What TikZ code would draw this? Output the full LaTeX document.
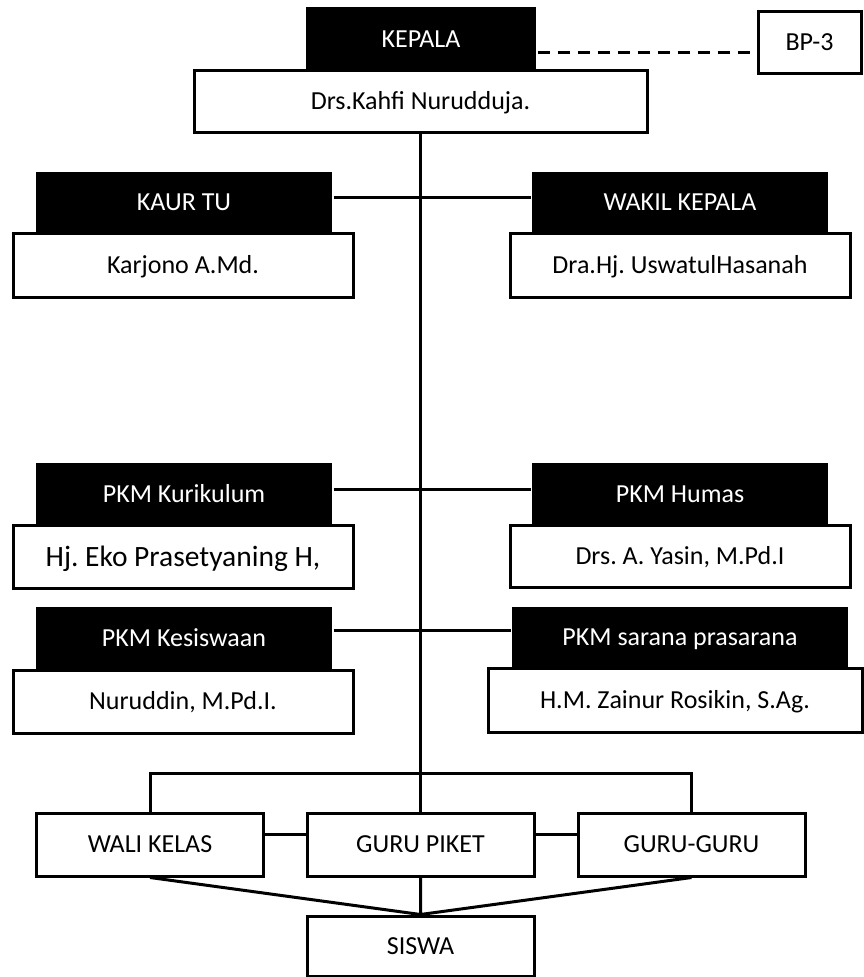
\documentclass[tikz,border=0pt]{standalone}
\usepackage{fontspec}
\setmainfont{Carlito}
\usepackage{tikz}
\frenchspacing

\begin{document}
\begin{tikzpicture}[x=1pt,y=-1pt,line width=3pt,
    titlebox/.style={fill=black,text=white,inner sep=0pt,minimum width=296pt,minimum height=61pt,
      font=\fontsize{26}{30}\selectfont,text height=16.7pt,text depth=0pt},
    namebox/.style={draw,fill=white,inner sep=0pt,minimum width=340pt,minimum height=64pt,
      font=\fontsize{26}{30}\selectfont,text height=16.7pt,text depth=0pt},
    unitbox/.style={namebox,minimum width=227pt,minimum height=63pt},
    dashline/.style={dash pattern=on 12pt off 8pt}]
        \useasboundingbox (0,0) rectangle (864,977);
        % top
        \node[titlebox,minimum width=230pt,minimum height=64pt] (kepala) at (421,39) {KEPALA};
        \node[namebox,minimum width=453pt,minimum height=62pt] (kahfi) at (420.5,101) {Drs.Kahfi Nurudduja.};
        \node[namebox,minimum width=103pt,minimum height=62pt] (bp) at (809.5,42) {BP-3};
        \draw[dashline] ([yshift=-13pt]kepala.east) -- ([yshift=-13pt]kepala.east -| bp.west);
        % left column
        \node[titlebox] (kaur) at (184,202.5) {KAUR TU};
        \node[namebox] (karjono) at (183,265) {Karjono A.Md.};
        \node[titlebox,minimum height=62pt] (kurikulum) at (184,494) {PKM Kurikulum};
        \node[namebox,minimum height=63pt,font=\fontsize{29.5}{34}\selectfont,text height=19pt] (eko) at (183,556.5) {Hj. Eko Prasetyaning H,};
        \node[titlebox,minimum height=63pt] (kesiswaan) at (184,638.5) {PKM Kesiswaan};
        \node[namebox,minimum height=63pt] (nuruddin) at (183,701.5) {Nuruddin, M.Pd.I.};
        % right column
        \node[titlebox] (wakil) at (680,202.5) {WAKIL KEPALA};
        \node[namebox] (uswatul) at (680,265) {Dra.Hj. UswatulHasanah};
        \node[titlebox,minimum height=62pt] (humas) at (680,494) {PKM Humas};
        \node[namebox,minimum height=62pt] (yasin) at (680,556) {Drs. A. Yasin, M.Pd.I};
        \node[titlebox,minimum width=336pt] (sarana) at (680,637.5) {PKM sarana prasarana};
        \node[namebox,minimum width=374pt] (zainur) at (675,700) {H.M. Zainur Rosikin, S.Ag.};
        % bottom row
        \node[unitbox] (wali) at (150,844.5) {WALI KELAS};
        \node[unitbox] (piket) at (420.5,844.5) {GURU PIKET};
        \node[unitbox] (guru) at (691.5,844.5) {GURU-GURU};
        \node[unitbox,minimum height=60pt] (siswa) at (420.5,946) {SISWA};
        \coordinate (brk) at (420.5,773);

        \draw (kahfi.south) -- (piket.north);
        \draw ([yshift=5.5pt]kaur.east) -- ([yshift=5.5pt]wakil.west);
        \draw ([yshift=5pt]kurikulum.east) -- ([yshift=5pt]humas.west);
        \draw ([yshift=8pt]kesiswaan.east) -- ([yshift=8pt]kesiswaan.east -| sarana.west);
        \draw (wali.north) |- (brk) -| (guru.north);
        \draw ([yshift=10pt]wali.east) -- ([yshift=10pt]piket.west)
              ([yshift=10pt]piket.east) -- ([yshift=10pt]guru.west);
        \draw (wali.south) -- (siswa.north) -- (guru.south)
              (piket.south) -- (siswa.north);
      \end{tikzpicture}
\end{document}
